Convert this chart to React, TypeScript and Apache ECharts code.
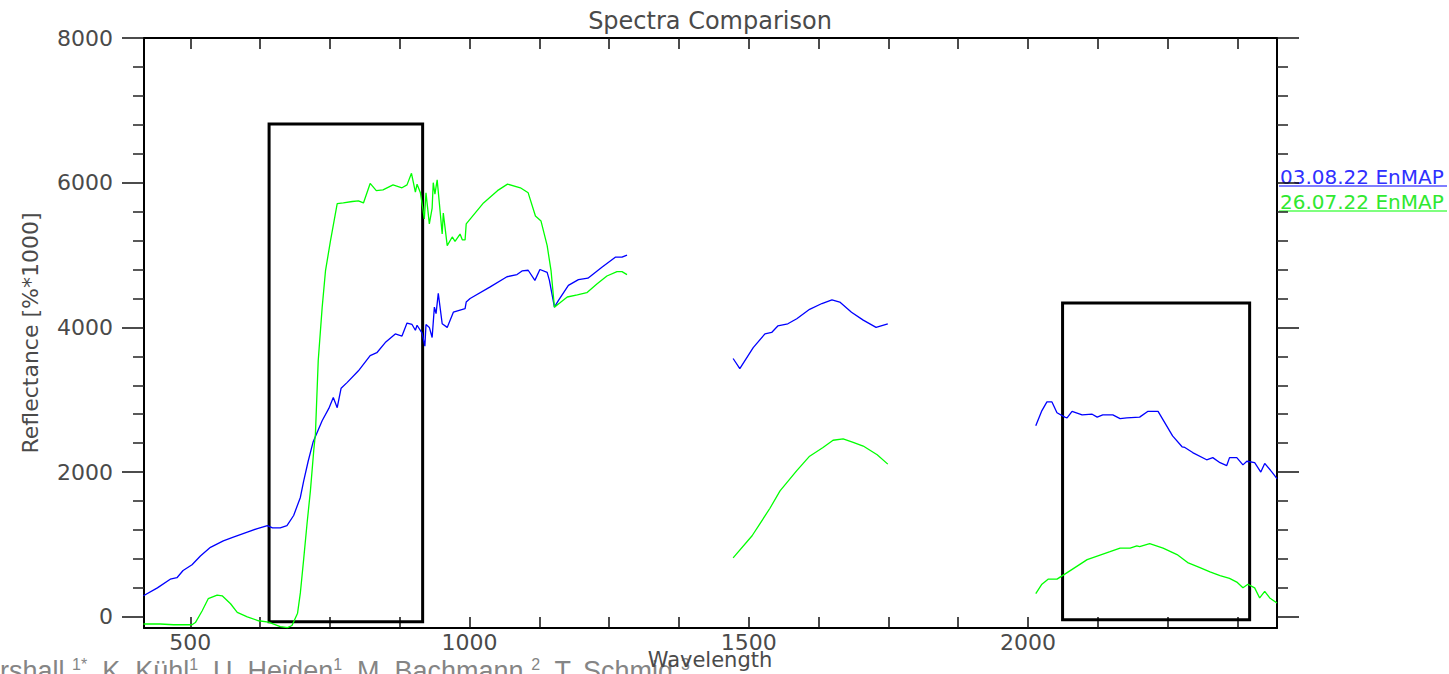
import React, { useEffect, useRef } from "react";
import * as echarts from "echarts";

const TITLE = "Spectra Comparison";
const X_NAME = "Wavelength";
const Y_NAME = "Reflectance [%*1000]";
const AUTHORS_MAIN = ["rshall ", ", K. Kühl", ", U. Heiden", ", M. Bachmann ", ", T. Schmid "];
const AUTHORS_SUP = ["1*", "1", "1", "2", "3"];
const LEGEND_NAMES = ["03.08.22 EnMAP", "26.07.22 EnMAP"];

const X_MIN = 417;
const X_MAX = 2446;
const Y_MIN = -155;
const Y_MAX = 8000;
const X_LABELS = [500, 1000, 1500, 2000];
const X_TICKS = [500, 625, 750, 875, 1000, 1125, 1250, 1375, 1500, 1625, 1750, 1875, 2000, 2125, 2250, 2375];
const Y_LABELS = [0, 2000, 4000, 6000, 8000];
const Y_MINOR = [400, 800, 1200, 1600, 2400, 2800, 3200, 3600, 4400, 4800, 5200, 5600, 6400, 6800, 7200, 7600];

// highlighted wavelength windows: [x0, x1, y0, y1]
const BOX_A = [641, 916, -69, 6810];
const BOX_B = [2062, 2397, -40, 4337];

// 03.08.22 EnMAP (blue)
const blueVnir: [number, number][] = [
  [416, 290], [441, 400], [464, 520], [476, 540], [487, 640], [503, 720], [518, 840], [536, 960],
  [559, 1050], [577, 1100], [602, 1170], [620, 1220], [638, 1260], [647, 1230], [661, 1230], [673, 1260],
  [685, 1400], [697, 1650], [703, 1880], [711, 2150], [720, 2420], [736, 2710], [748, 2880], [756, 3030],
  [763, 2890], [770, 3160], [781, 3240], [801, 3400], [822, 3610], [834, 3650], [849, 3790], [867, 3910],
  [879, 3880], [888, 4060], [897, 4040], [903, 3960], [906, 4030], [915, 3920], [920, 3740], [922, 4040],
  [928, 4000], [933, 3860], [937, 4280], [940, 4190], [944, 4470], [951, 4050], [960, 4000], [971, 4210],
  [983, 4240], [992, 4260], [994, 4350], [1001, 4400], [1037, 4560], [1067, 4700], [1085, 4730], [1094, 4780],
  [1105, 4790], [1117, 4650], [1126, 4800], [1139, 4760], [1143, 4650], [1152, 4280], [1159, 4370], [1177, 4580],
  [1195, 4660], [1212, 4680], [1237, 4830], [1261, 4970], [1273, 4970], [1282, 5000],
];
const blueSwir1: [number, number][] = [
  [1472, 3570], [1484, 3430], [1508, 3720], [1529, 3910], [1541, 3930], [1552, 4020], [1570, 4050], [1586, 4120],
  [1609, 4250], [1631, 4330], [1649, 4380], [1663, 4350], [1684, 4210], [1705, 4100], [1728, 4000], [1749, 4050],
];
const blueSwir2: [number, number][] = [
  [2014, 2640], [2025, 2850], [2034, 2970], [2043, 2970], [2052, 2820], [2066, 2760], [2070, 2750], [2079, 2840],
  [2097, 2790], [2115, 2800], [2124, 2760], [2134, 2790], [2152, 2790], [2165, 2740], [2177, 2750], [2200, 2760],
  [2215, 2840], [2233, 2840], [2259, 2500], [2276, 2350], [2281, 2340], [2295, 2270], [2320, 2170], [2331, 2200],
  [2344, 2130], [2356, 2090], [2361, 2200], [2374, 2200], [2385, 2100], [2392, 2150], [2406, 2130], [2417, 2000],
  [2424, 2120], [2437, 2000], [2446, 1910],
];

// 26.07.22 EnMAP (green)
const greenVnir: [number, number][] = [
  [416, -100], [446, -100], [470, -110], [503, -110], [509, -80], [521, 80], [532, 250], [548, 300],
  [557, 290], [572, 180], [584, 60], [602, 0], [622, -55], [640, -75], [661, -135], [674, -150],
  [682, -120], [692, 50], [697, 330], [703, 800], [709, 1290], [715, 1740], [721, 2300], [724, 2530],
  [729, 3540], [736, 4270], [742, 4780], [751, 5200], [763, 5710], [774, 5720], [790, 5740], [801, 5750],
  [810, 5720], [822, 5990], [833, 5890], [845, 5900], [863, 5970], [879, 5930], [888, 5970], [896, 6130],
  [903, 5870], [906, 5980], [912, 5860], [915, 5710], [919, 5500], [922, 5860], [928, 5430], [933, 5650],
  [935, 6000], [938, 5840], [942, 6040], [946, 5710], [951, 5290], [953, 5580], [960, 5130], [969, 5250],
  [974, 5190], [983, 5290], [987, 5210], [992, 5210], [994, 5430], [1025, 5720], [1050, 5890], [1068, 5980],
  [1091, 5930], [1105, 5860], [1118, 5540], [1128, 5470], [1139, 5130], [1146, 4780], [1152, 4280], [1162, 4340],
  [1175, 4420], [1193, 4450], [1210, 4480], [1228, 4600], [1246, 4710], [1264, 4770], [1273, 4770], [1282, 4730],
];
const greenSwir1: [number, number][] = [
  [1472, 815], [1506, 1120], [1538, 1500], [1556, 1740], [1586, 2020], [1609, 2220], [1633, 2340], [1651, 2440],
  [1669, 2460], [1687, 2410], [1705, 2360], [1730, 2240], [1749, 2110],
];
const greenSwir2: [number, number][] = [
  [2014, 320], [2025, 450], [2036, 520], [2052, 520], [2066, 590], [2084, 680], [2106, 790], [2124, 840],
  [2147, 900], [2165, 950], [2183, 950], [2195, 980], [2200, 970], [2218, 1010], [2242, 950], [2267, 860],
  [2286, 750], [2308, 680], [2326, 620], [2344, 570], [2361, 530], [2374, 480], [2385, 400], [2394, 450],
  [2406, 400], [2415, 260], [2424, 350], [2433, 260], [2446, 190],
];

const BLUE = "#0000ff";
const GREEN = "#00ff00";
const FONT = "'DejaVu Sans ExtraLight', 'DejaVu Sans', sans-serif";
const TXT = "#4a4a4a";

function joinSegments(segs: [number, number][][]): any[] {
  const out: any[] = [];
  segs.forEach((s, i) => {
    if (i > 0) out.push([(segs[i - 1][segs[i - 1].length - 1][0] + s[0][0]) / 2, "-"]);
    s.forEach((p) => out.push(p));
  });
  return out;
}

function boxArea(b: number[]) {
  return [{ coord: [b[0], b[2]] }, { coord: [b[1], b[3]] }];
}

const plain = (v: number) => String(v);

export default function App() {
  const ref = useRef<HTMLDivElement>(null);
  useEffect(() => {
    if (!ref.current) return;
    const chart = echarts.init(ref.current, undefined, { renderer: "svg" });
    const xCommon = {
      type: "value",
      min: X_MIN,
      max: X_MAX,
      splitLine: { show: false },
      axisLine: { show: true, onZero: false, lineStyle: { color: "#000", width: 2 } },
      axisTick: { show: true, inside: true, length: 11, customValues: X_TICKS, lineStyle: { color: "#111", width: 1.5 } },
    };
    const yCommon = {
      type: "value",
      min: Y_MIN,
      max: Y_MAX,
      splitLine: { show: false },
    };
    const richMain = { fontSize: 27, lineHeight: 30, fontFamily: "'Liberation Sans', Arial, sans-serif", fill: "#858585" };
    const richSup = { fontSize: 16, lineHeight: 30, verticalAlign: "top", fontFamily: "'Liberation Sans', Arial, sans-serif", fill: "#858585" };
    let authorText = "";
    AUTHORS_MAIN.forEach((m, i) => {
      authorText += "{n|" + m + "}{s|" + AUTHORS_SUP[i] + "}";
    });
    chart.setOption({
      animation: false,
      backgroundColor: "#fff",
      grid: { left: 144, right: 172, top: 38, bottom: 46, containLabel: false },
      xAxis: [
        {
          ...xCommon,
          position: "bottom",
          axisLabel: { customValues: X_LABELS, formatter: plain, fontSize: 22, color: TXT, margin: 3, fontFamily: FONT },
        },
        {
          ...xCommon,
          position: "top",
          axisLabel: { show: false },
        },
      ],
      yAxis: [
        {
          ...yCommon,
          position: "left",
          axisLine: { show: true, onZero: false, lineStyle: { color: "#000", width: 2 } },
          axisTick: { show: true, inside: false, length: 22, customValues: Y_LABELS, lineStyle: { color: "#111", width: 1.5 } },
          axisLabel: { customValues: Y_LABELS, formatter: plain, fontSize: 22, color: TXT, margin: 31, fontFamily: FONT },
        },
        {
          ...yCommon,
          position: "left",
          axisLine: { show: false, onZero: false },
          axisTick: { show: true, inside: false, length: 11, customValues: Y_MINOR, lineStyle: { color: "#222", width: 1.5 } },
          axisLabel: { show: false },
        },
        {
          ...yCommon,
          position: "right",
          axisLine: { show: true, onZero: false, lineStyle: { color: "#000", width: 2 } },
          axisTick: { show: true, inside: false, length: 22, customValues: Y_LABELS, lineStyle: { color: "#111", width: 1.5 } },
          axisLabel: { show: false },
        },
        {
          ...yCommon,
          position: "right",
          axisLine: { show: false, onZero: false },
          axisTick: { show: true, inside: false, length: 11, customValues: Y_MINOR, lineStyle: { color: "#222", width: 1.5 } },
          axisLabel: { show: false },
        },
      ],
      series: [
        {
          name: LEGEND_NAMES[0],
          type: "line",
          xAxisIndex: 0,
          yAxisIndex: 0,
          showSymbol: false,
          connectNulls: false,
          data: joinSegments([blueVnir, blueSwir1, blueSwir2]),
          lineStyle: { color: BLUE, width: 1.3 },
          itemStyle: { color: BLUE },
          z: 3,
        },
        {
          name: LEGEND_NAMES[1],
          type: "line",
          xAxisIndex: 0,
          yAxisIndex: 0,
          showSymbol: false,
          connectNulls: false,
          data: joinSegments([greenVnir, greenSwir1, greenSwir2]),
          lineStyle: { color: GREEN, width: 1.3 },
          itemStyle: { color: GREEN },
          z: 3,
          markArea: {
            silent: true,
            itemStyle: { color: "rgba(0,0,0,0)", borderColor: "#000", borderWidth: 3 },
            data: [boxArea(BOX_A), boxArea(BOX_B)],
          },
        },
      ],
      graphic: [
        {
          type: "text",
          x: 710,
          y: 21,
          style: { text: TITLE, fill: TXT, font: "24px " + FONT, align: "center", verticalAlign: "middle" },
        },
        {
          type: "text",
          x: 0,
          y: 671,
          z: 1,
          style: { text: authorText, rich: { n: richMain, s: richSup }, verticalAlign: "middle", align: "left" },
        },
        {
          type: "text",
          x: 710,
          y: 660,
          z: 5,
          style: { text: X_NAME, fill: TXT, font: "21px " + FONT, align: "center", verticalAlign: "middle" },
        },
        {
          type: "text",
          x: 30,
          y: 333,
          rotation: Math.PI / 2,
          style: { text: Y_NAME, fill: TXT, font: "22px " + FONT, align: "center", verticalAlign: "middle" },
        },
        {
          type: "text",
          x: 1280,
          y: 177,
          style: { text: LEGEND_NAMES[0], fill: "#3030ff", font: "20px " + FONT, align: "left", verticalAlign: "middle" },
        },
        {
          type: "line",
          shape: { x1: 1279, y1: 186, x2: 1447, y2: 186 },
          style: { stroke: BLUE, lineWidth: 1.2 },
        },
        {
          type: "text",
          x: 1280,
          y: 202,
          style: { text: LEGEND_NAMES[1], fill: "#30e830", font: "20px " + FONT, align: "left", verticalAlign: "middle" },
        },
        {
          type: "line",
          shape: { x1: 1279, y1: 211, x2: 1447, y2: 211 },
          style: { stroke: GREEN, lineWidth: 1.2 },
        },
      ],
    });
    return () => chart.dispose();
  }, []);
  return (
    <div
      ref={ref}
      style={{ position: "fixed", left: 0, top: 0, width: 1449, height: 674, background: "#fff" }}
    />
  );
}
